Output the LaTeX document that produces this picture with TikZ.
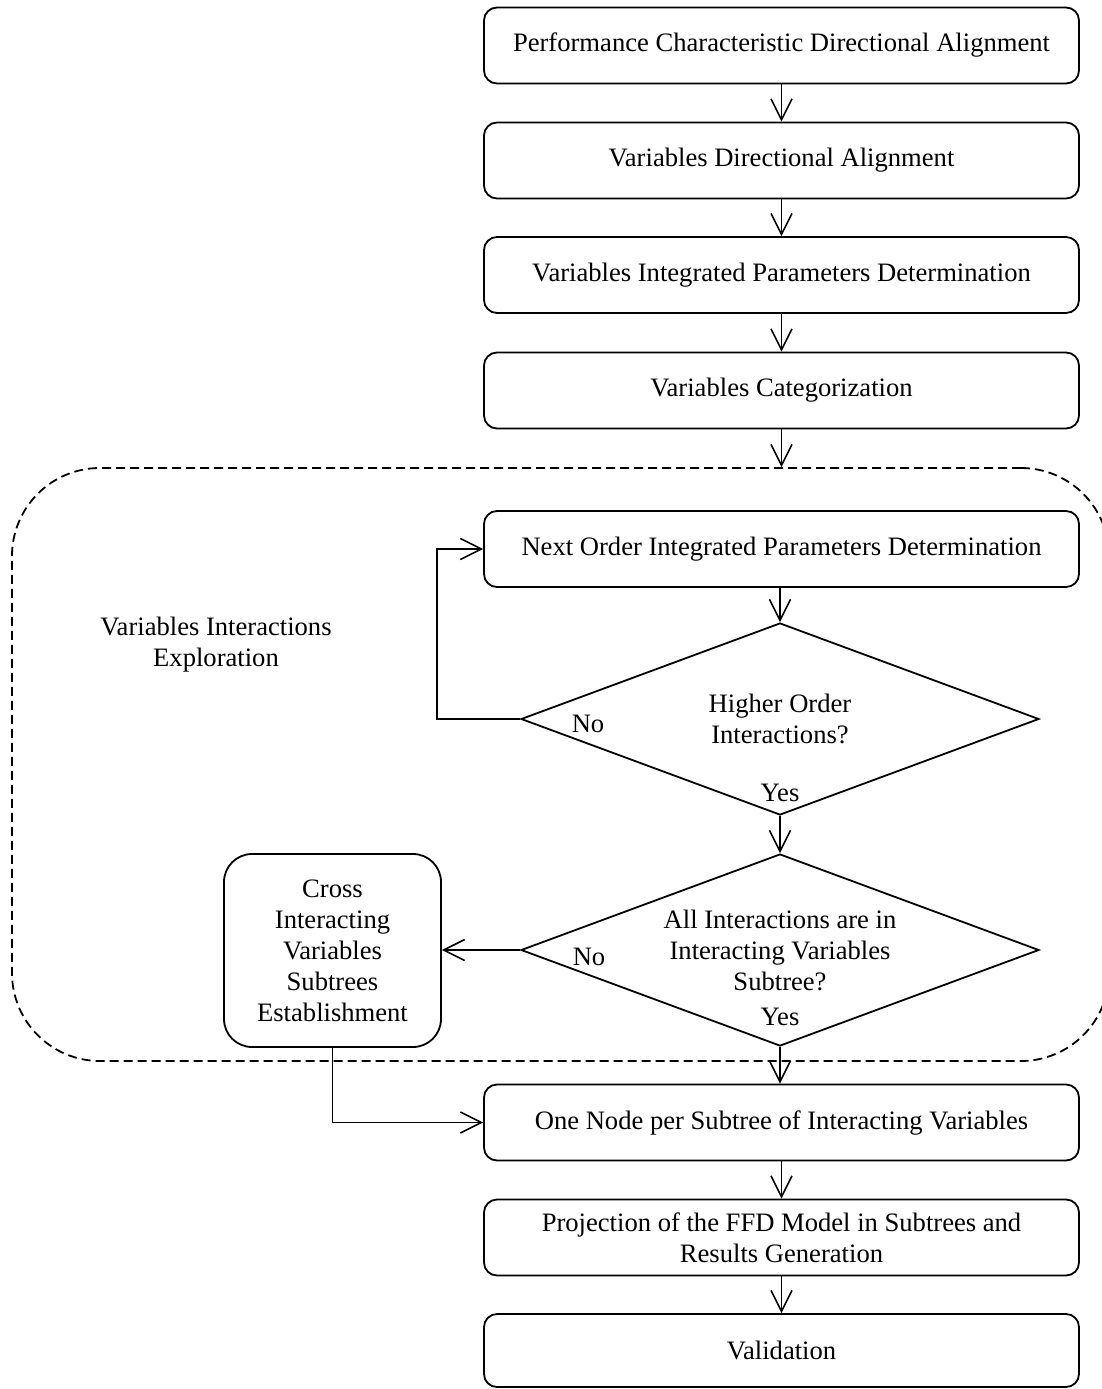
\documentclass[tikz,border=0pt]{standalone}
\usepackage{fontspec}
\setmainfont{Liberation Serif}
\usetikzlibrary{arrows.meta,shapes.geometric,calc}

\begin{document}
\begin{tikzpicture}[x=1pt,y=-1pt,
  every node/.style={font=\fontsize{26.6pt}{31pt}\selectfont},
  stepbox/.style={draw, rounded corners=13pt, line width=1.8pt,
    minimum width=595pt, minimum height=76pt, align=center, inner sep=0pt},
  decision/.style={draw, diamond, aspect=2.7, minimum width=518pt,
    minimum height=192pt, inner sep=0pt, line width=1.8pt, align=center},
  crossbox/.style={draw, rounded corners=28pt, line width=1.8pt,
    minimum width=217pt, minimum height=193pt, align=center, inner sep=0pt},
  region/.style={draw, dashed, dash pattern=on 9pt off 5pt, line width=1.8pt,
    rounded corners=88pt, minimum width=1097pt, minimum height=593pt, inner sep=0pt},
  flow/.style={line width=1.6pt,
    -{Straight Barb[length=21pt, width=21pt, line width=1.6pt]}},
  tag/.style={inner sep=0pt}
]
\useasboundingbox (0,0) rectangle (1101,1389);

% dashed exploration zone
\node[region] (zone) at (560.5,764.5) {};
\node[align=center] (zonelabel) at (216,645) {Variables Interactions\\Exploration};

% main column of steps
\node[stepbox] (s1) at (781.5,45.5) {Performance Characteristic Directional Alignment};
\node[stepbox] (s2) at (781.5,160.5) {Variables Directional Alignment};
\node[stepbox] (s3) at (781.5,275) {Variables Integrated Parameters Determination};
\node[stepbox] (s4) at (781.5,390.5) {Variables Categorization};
\node[stepbox] (s5) at (781.5,549) {Next Order Integrated Parameters Determination};
\node[decision] (d1) at (780,719) {Higher Order\\Interactions?};
\node[decision] (d2) at (780,950) {All Interactions are in\\Interacting Variables\\Subtree?};
\node[crossbox] (cross) at (332.5,950.5) {Cross\\Interacting\\Variables\\Subtrees\\Establishment};
\node[stepbox] (s6) at (781.5,1122.5) {One Node per Subtree of Interacting Variables};
\node[stepbox] (s7) at (781.5,1237.5) {Projection of the FFD Model in Subtrees and\\Results Generation};
\node[stepbox, minimum height=73pt] (s8) at (781.5,1350.5) {Validation};

% decision labels
\node[tag] (no1) at (588,724) {No};
\node[tag] (yes1) at (780,793) {Yes};
\node[tag] (no2) at (589,957) {No};
\node[tag] (yes2) at (780,1017) {Yes};

% connectors
\coordinate (zonetop) at (s4.south |- zone.north);
\draw[flow] (s1) -- (s2);
\draw[flow] (s2) -- (s3);
\draw[flow] (s3) -- (s4);
\draw[flow] (s4) -- (zonetop);
\draw[flow] (s5.south -| d1.north) -- (d1.north);
\draw[flow] (d1.south) -- (d2.north);
\draw[flow] (d1.west) -- ++(-83,0) |- (s5.west);
\draw[flow] (d2.west) -- (cross.east |- d2.west);
\draw[flow] (d2.south) -- (s6.north -| d2.south);
\draw[flow] (cross.south) |- (s6.west);
\draw[flow] (s6) -- (s7);
\draw[flow] (s7) -- (s8);
\end{tikzpicture}
\end{document}
